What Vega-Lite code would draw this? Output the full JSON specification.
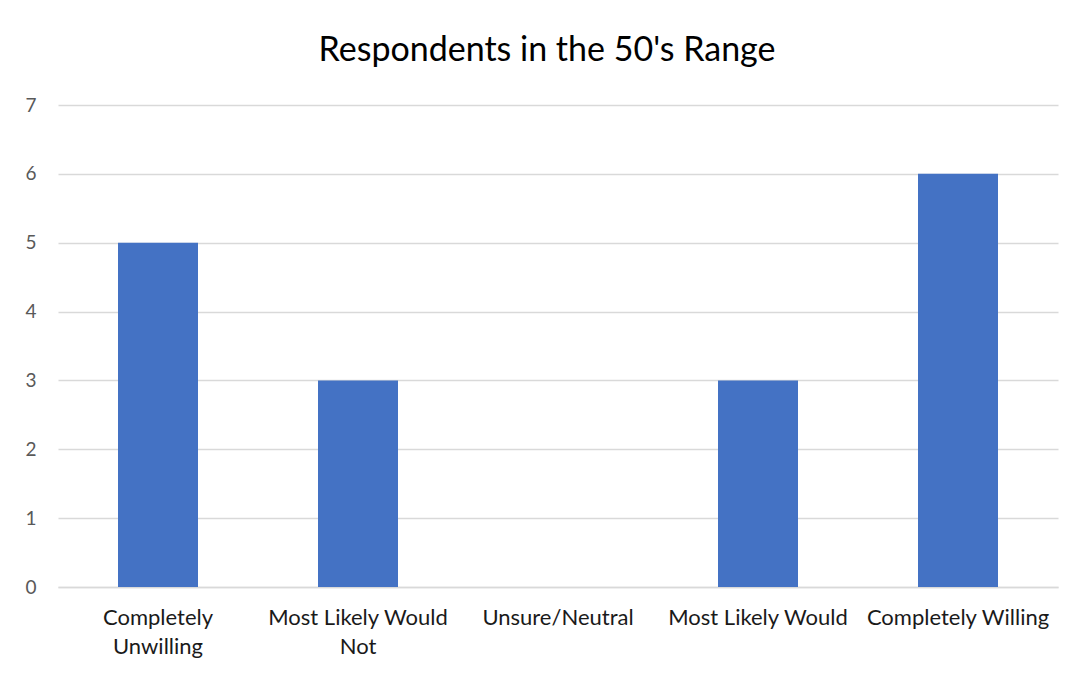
{
  "$schema": "https://vega.github.io/schema/vega-lite/v6.json",
  "width": 1000,
  "height": 482,
  "autosize": {"type": "none"},
  "padding": {"left": 58, "top": 105, "right": 25, "bottom": 88},
  "background": "#ffffff",
  "title": {
    "text": "Respondents in the 50's Range",
    "font": "Lato",
    "fontSize": 34,
    "fontWeight": "normal",
    "color": "#000000",
    "anchor": "middle",
    "offset": 28,
    "dx": -11
  },
  "data": {
    "values": [
      {"category": "Completely Unwilling", "count": 5},
      {"category": "Most Likely Would Not", "count": 3},
      {"category": "Unsure/Neutral", "count": 0},
      {"category": "Most Likely Would", "count": 3},
      {"category": "Completely Willing", "count": 6}
    ]
  },
  "mark": {"type": "bar", "color": "#4472C4"},
  "encoding": {
    "x": {
      "field": "category",
      "type": "nominal",
      "sort": null,
      "scale": {"paddingInner": 0.6, "paddingOuter": 0.3},
      "axis": {
        "title": null,
        "labelAngle": 0,
        "labelFont": "Lato",
        "labelFontSize": 22,
        "labelColor": "#1a1a1a",
        "labelPadding": 20,
        "labelLineHeight": 29,
        "labelLimit": 300,
        "ticks": false,
        "domain": true,
        "domainColor": "#d9d9d9",
        "domainWidth": 1.5,
        "grid": false,
        "labelExpr": "datum.label == 'Completely Unwilling' ? ['Completely', 'Unwilling'] : datum.label == 'Most Likely Would Not' ? ['Most Likely Would', 'Not'] : datum.label"
      }
    },
    "y": {
      "field": "count",
      "type": "quantitative",
      "scale": {"domain": [0, 7], "nice": false},
      "axis": {
        "title": null,
        "values": [0, 1, 2, 3, 4, 5, 6, 7],
        "labelOverlap": false,
        "labelFont": "Lato",
        "labelFontSize": 19,
        "labelColor": "#595959",
        "labelPadding": 22,
        "ticks": false,
        "domain": false,
        "grid": true,
        "gridColor": "#d9d9d9",
        "gridWidth": 1.5
      }
    }
  },
  "config": {
    "view": {"stroke": null}
  }
}
